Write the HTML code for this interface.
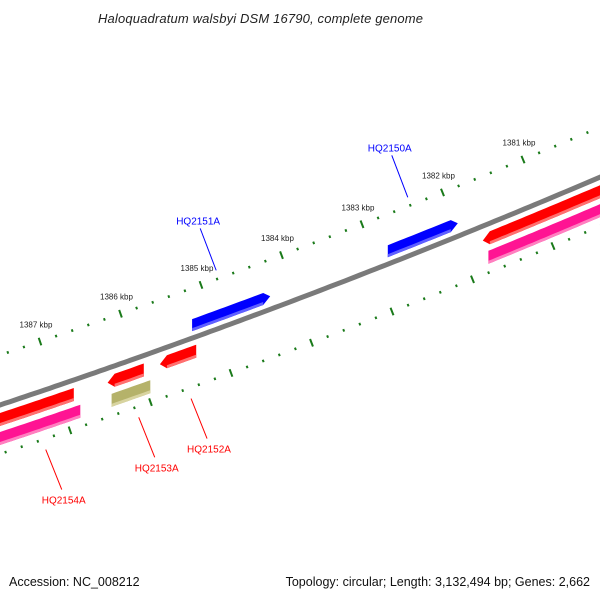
<!DOCTYPE html>
<html><head><meta charset="utf-8"><style>
body{margin:0;background:#fff}
svg{display:block;font-family:"Liberation Sans",sans-serif}
</style></head><body>
<svg id="chart" width="600" height="600" viewBox="0 0 600 600">
<text x="98" y="23" font-size="13" font-style="italic" fill="#222" textLength="325">Haloquadratum walsbyi DSM 16790, complete genome</text>
<g id="ticks"></g>
<path id="backbone" fill="none" stroke="#7a7a7a" stroke-width="5"/>
<g id="genes"></g>
<g id="labels"></g>
<text x="9" y="586" font-size="12.5" fill="#111">Accession: NC_008212</text>
<text x="590" y="586" font-size="12.5" fill="#111" text-anchor="end">Topology: circular; Length: 3,132,494 bp; Genes: 2,662</text>
</svg>
<script>
const majorKbp = [1381,1382,1383,1384,1385,1386,1387];
const tickLabels = ["1381 kbp","1382 kbp","1383 kbp","1384 kbp","1385 kbp","1386 kbp","1387 kbp"];
const geneNames = ["HQ2154A","HQ2154A-b","HQ2153A","HQ2153A-b","HQ2152A","HQ2151A","HQ2150A","right-red","right-magenta"];
const geneStart = [1387.6,1387.6,1386.16,1386.11,1385.51,1385.11,1382.68,1381.50,1381.43];
const geneEnd   = [1386.58,1386.50,1385.71,1385.63,1385.06,1384.14,1381.81,1379.8,1379.8];
const geneTrack = [1,2,1,2,1,-1,-1,1,2];
const geneStrand= [0,0,-1,0,-1,1,1,-1,0];
const geneColor = ["#ff0000","#ff1493","#ff0000","#b5b26a","#ff0000","#0000ff","#0000ff","#ff0000","#ff1493"];
const geneLight = ["#ff7070","#ff80c0","#ff7070","#d8d4a0","#ff7070","#6060ff","#6060ff","#ff7070","#ff80c0"];
const labelled = ["HQ2154A","HQ2153A","HQ2152A","HQ2151A","HQ2150A"];
const labelGene = [0,2,4,5,6];

const NS="http://www.w3.org/2000/svg";
function X(k){return 40+(1387-k)*80.5;}
function bb(x){return 405-0.333*x-7.78e-5*x*x;}
function slope(x){return -0.333-2*7.78e-5*x;}
function P(x,off){return [x, bb(x)+off];}
function mk(tag,attrs,parent){const e=document.createElementNS(NS,tag);for(const k in attrs)e.setAttribute(k,attrs[k]);parent.appendChild(e);return e;}

let d='';for(let x=-5;x<=605;x+=5){d+=(x==-5?'M':'L')+x+','+bb(x).toFixed(1);}
document.getElementById('backbone').setAttribute('d',d);

const tg=document.getElementById('ticks');
[[-50,0],[49,30]].forEach(([off,shift])=>{
  for(let k=1379.6;k<=1388.0001;k+=0.2){
    const kk=Math.round(k*10)/10;
    const x=X(kk)+shift; if(x<-5||x>605)continue;
    const major=Math.abs(kk-Math.round(kk))<0.01;
    const len=major?4:1.3;
    const s=slope(x),n=Math.sqrt(1+s*s);
    const c=P(x,off), dx=-s/n*len, dy=1/n*len;
    const l=mk('line',{x1:c[0]-dx,y1:c[1]-dy,x2:c[0]+dx,y2:c[1]+dy,stroke:'#1a7a1a','stroke-width':2},tg);
    
    
  }
});
majorKbp.forEach((k,i)=>{
  const p=P(X(k),-50);
  const t=mk('text',{x:p[0]-4,y:p[1]-14,'font-size':8,'text-anchor':'middle',fill:'#222'},tg);
  t.textContent=tickLabels[i];
  
  
});

const gg=document.getElementById('genes');
const trackOff={'-1':[-19,-7],'1':[8,21],'2':[27,40]};
function ptsStr(a){return a.map(p=>p[0].toFixed(1)+','+p[1].toFixed(1)).join(' ');}
geneNames.forEach((nm,i)=>{
  const [o1,o2]=trackOff[geneTrack[i]];
  let x1=Math.min(X(geneStart[i]),X(geneEnd[i])), x2=Math.max(X(geneStart[i]),X(geneEnd[i]));
  const st=geneStrand[i], ah=7;
  const a1=st<0?x1+ah:x1, a2=st>0?x2-ah:x2;
  const top=[],bot=[];
  for(let x=a1;x<a2;x+=4){top.push(P(x,o1));bot.push(P(x,o2));}
  top.push(P(a2,o1));bot.push(P(a2,o2));
  let pts=[];
  if(st<0)pts.push(P(x1,(o1+o2)/2));
  pts=pts.concat(top);
  if(st>0)pts.push(P(x2,(o1+o2)/2));
  pts=pts.concat(bot.slice().reverse());
  const g=mk('g',{},gg);
  
  
  mk('polygon',{points:ptsStr(pts),fill:geneColor[i]},g);
  const ls=[],lb=[];
  for(let x=a1;x<a2;x+=4){ls.push(P(x,o2-3));lb.push(P(x,o2));}
  ls.push(P(a2,o2-3));lb.push(P(a2,o2));
  mk('polygon',{points:ptsStr(ls.concat(lb.reverse())),fill:geneLight[i]},g);
});

const lg=document.getElementById('labels');
labelled.forEach((nm,j)=>{
  const i=labelGene[j];
  const xm=(X(geneStart[i])+X(geneEnd[i]))/2;
  const col=geneColor[i]=='#0000ff'?'#0000ff':'#ff0000';
  let a,b,tx,ty;
  if(geneTrack[i]<0){
    b=P(xm-15,-59); a=[b[0]-16,b[1]-42]; tx=a[0]-24; ty=a[1]-4;
  } else {
    a=P(xm+13,60); b=[a[0]+16,a[1]+40]; tx=b[0]-20; ty=b[1]+14;
  }
  const l=mk('line',{x1:a[0],y1:a[1],x2:b[0],y2:b[1],stroke:col,'stroke-width':1},lg);
  
  
  const t=mk('text',{x:tx,y:ty,'font-size':10,fill:col},lg);
  t.textContent=nm;
  
  
});
</script>
</body></html>
